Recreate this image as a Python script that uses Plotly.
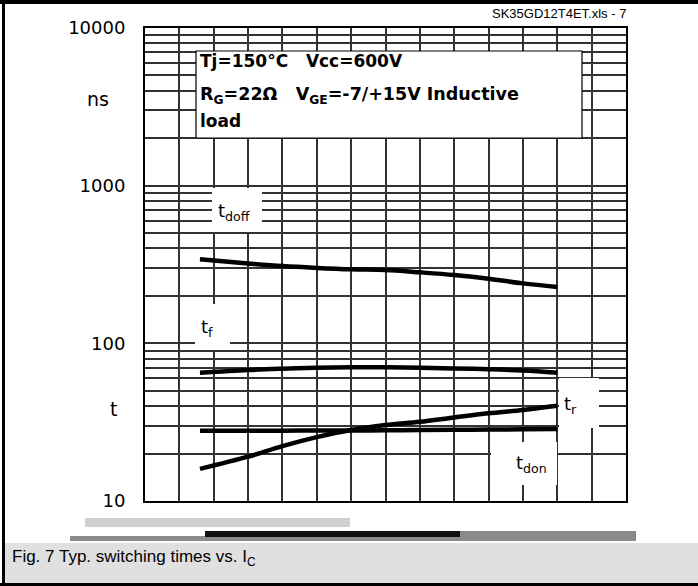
import plotly.graph_objects as go

# ---- data ----
ic_A = [8, 15, 20, 25, 30, 35, 40, 45, 50, 55, 60]
t_doff = [341, 321, 309, 301, 295, 292, 282, 271, 257, 240, 228]
t_f = [65, 67.7, 69, 70, 70.4, 70.4, 70, 69.3, 68.5, 67.2, 65]
t_don = [27.9, 27.9, 27.9, 28.0, 28.0, 28.1, 28.2, 28.3, 28.4, 28.5, 28.6]
t_r = [16.0, 19.1, 22.3, 25.4, 28.2, 30.3, 31.8, 33.9, 36.0, 37.8, 40.2]

y_major = [10, 100, 1000, 10000]
y_major_text = ["10", "100", "1000", "10000"]
y_minor = [v * m for m in (10, 100, 1000) for v in range(2, 10)]
x_grid = list(range(5, 70, 5))

# ---- layout helpers (pixel -> paper) ----
L, R, T, B = 145, 626, 28, 501
W, H = R - L, B - T


def px(x):
    return (x - L) / W


def py(y):
    return (B - y) / H


SANS = "DejaVu Sans"
ARIAL = "Liberation Sans, Arial"

fig = go.Figure()
for ys in (t_doff, t_f, t_don, t_r):
    fig.add_trace(go.Scatter(x=ic_A, y=ys, mode="lines",
                             line=dict(color="black", width=4.5, shape="spline"),
                             showlegend=False, hoverinfo="skip"))

grid = "#333333"
fig.update_xaxes(range=[0, 70], tickmode="array", tickvals=x_grid, showgrid=True,
                 gridcolor=grid, gridwidth=1.5,
                 showticklabels=False, zeroline=False, showline=True, linecolor="black",
                 linewidth=2, mirror=True, ticks="")
fig.update_yaxes(type="log", range=[1, 4], tickmode="array", tickvals=y_major,
                 ticktext=y_major_text, showgrid=True, gridcolor=grid, gridwidth=1.5,
                 minor=dict(tickmode="array", tickvals=y_minor, showgrid=True,
                            gridcolor=grid, gridwidth=1.5, ticks=""),
                 zeroline=False, showline=True, linecolor="black", linewidth=2, mirror=True,
                 ticks="", ticklabelstandoff=14, automargin=False,
                 tickfont=dict(family=SANS, size=18, color="black"))

shapes = []
annotations = []

# white label patches
for x0, x1, y0, y1 in [(212, 262, 188, 232), (195, 230, 304, 350),
                       (559, 599, 378, 428), (491, 557, 442, 485)]:
    shapes.append(dict(type="rect", xref="paper", yref="paper", x0=px(x0), x1=px(x1),
                       y0=py(y1), y1=py(y0), fillcolor="white", line=dict(width=0),
                       layer="above"))

# info box
shapes.append(dict(type="rect", xref="paper", yref="paper", x0=px(196), x1=px(582),
                   y0=py(138), y1=py(51), fillcolor="white",
                   line=dict(color="black", width=1.2), layer="above"))

# caption band
shapes.append(dict(type="rect", xref="paper", yref="paper", x0=px(4), x1=px(698),
                   y0=py(584), y1=py(543), fillcolor="#e0e0e0", line=dict(width=0),
                   layer="below"))
# garbled axis strip
for x0, x1, y0, y1, c in [(85, 350, 518, 527, "#d0d0d0"), (70, 636, 536, 541, "#8a8a8a"),
                          (460, 636, 531, 541, "#8a8a8a"), (205, 460, 531, 537, "#111111")]:
    shapes.append(dict(type="rect", xref="paper", yref="paper", x0=px(x0), x1=px(x1),
                       y0=py(y1), y1=py(y0), fillcolor=c, line=dict(width=0),
                       layer="below"))
# outer frame (left, top, bottom)
for x0, x1, y0, y1 in [(2, 5, 0, 586), (0, 698, 0, 4), (0, 698, 583, 586)]:
    shapes.append(dict(type="rect", xref="paper", yref="paper", x0=px(x0), x1=px(x1),
                       y0=py(y1), y1=py(y0), fillcolor="black", line=dict(width=0),
                       layer="above"))


def ann(text, x, y, size, family=SANS, xanchor="left", color="black"):
    annotations.append(dict(text=text, x=px(x), y=py(y), xref="paper", yref="paper",
                            xanchor=xanchor, yanchor="middle", showarrow=False,
                            font=dict(family=family, size=size, color=color)))


ann("<b>Tj=150°C   Vcc=600V</b>", 198, 61, 17)
ann("<b>R<sub>G</sub>=22Ω   V<sub>GE</sub>=-7/+15V Inductive</b>", 198, 96, 17.5)
ann("<b>load</b>", 198, 121, 17)

ann("t<sub>doff</sub>", 216, 212, 18)
ann("t<sub>f</sub>", 199, 328, 18)
ann("t<sub>r</sub>", 562, 405, 18)
ann("t<sub>don</sub>", 514, 464, 18)

ann("ns", 98, 99, 19, xanchor="center")
ann("t", 113, 409, 19, xanchor="center")

ann("SK35GD12T4ET.xls - 7", 628, 13, 13, family=ARIAL, xanchor="right")
ann("Fig. 7 Typ. switching times vs. I<sub>C</sub>", 10, 558, 17, family=ARIAL)

fig.update_layout(width=698, height=586, margin=dict(l=L, r=698 - R, t=T, b=586 - B),
                  paper_bgcolor="white", plot_bgcolor="white",
                  shapes=shapes, annotations=annotations, showlegend=False)

fig.write_html("out.html", config={"displayModeBar": False},
               post_script="document.body.style.margin='0';document.body.style.overflow='hidden';")
